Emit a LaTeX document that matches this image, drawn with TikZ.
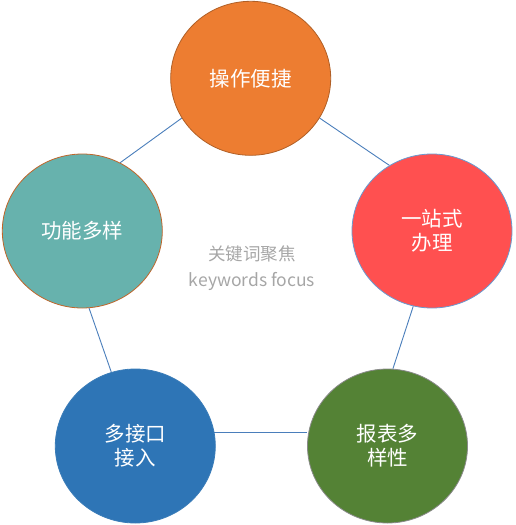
\documentclass[tikz,border=0pt]{standalone}
\usepackage{fontspec}
\setmainfont{Noto Sans CJK SC}
\usetikzlibrary{shapes.geometric,backgrounds}
\definecolor{cOrange}{HTML}{ED7D31}
\definecolor{cOrangeB}{HTML}{B05F26}
\definecolor{cRed}{HTML}{FF5050}
\definecolor{cRedB}{HTML}{6A9AD0}
\definecolor{cTeal}{HTML}{67B2AD}
\definecolor{cTealB}{HTML}{C0652A}
\definecolor{cBlue}{HTML}{2E75B6}
\definecolor{cBlueB}{HTML}{3A7CB8}
\definecolor{cGreen}{HTML}{548235}
\definecolor{cGreenB}{HTML}{8A8A8A}
\definecolor{cLine}{HTML}{4A7EBB}
\definecolor{cGray}{HTML}{A6A6A6}
\begin{document}
\begin{tikzpicture}[x=1pt,y=-1pt,
  bubble/.style={ellipse, minimum width=160pt, minimum height=154pt, inner sep=0pt,
    line width=0.8pt, text=white, align=center,
    font=\fontsize{20.5}{24}\selectfont},
  link/.style={cLine, line width=0.9pt}]
\useasboundingbox (0,0) rectangle (515,525);
\node[bubble, fill=cOrange, draw=cOrangeB] (top) at (250.7,78.3) {操作便捷};
\node[bubble, fill=cRed, draw=cRedB] (right) at (432,231) {一站式\\办理};
\node[bubble, fill=cTeal, draw=cTealB] (left) at (82.3,231) {功能多样};
\node[bubble, fill=cBlue, draw=cBlueB] (bl) at (135.3,446) {多接口\\接入};
\node[bubble, fill=cGreen, draw=cGreenB] (br) at (387.5,446) {报表多\\样性};
\node[text=cGray, align=center, font=\fontsize{17.5}{26.5}\selectfont] (kw) at (252,268) {关键词聚焦\\keywords focus};
\begin{scope}[on background layer]
\draw[link] (top.210.1) -- (left.61.9);
\draw[link] (top.330.6) -- (right.123.8);
\draw[link] (left.275.2) -- (bl.108.3);
\draw[link] (right.256) -- (br.86.1);
\draw[link] (bl.10.3) -- (bl.10.3 -| br.west);
\end{scope}
\end{tikzpicture}
\end{document}
